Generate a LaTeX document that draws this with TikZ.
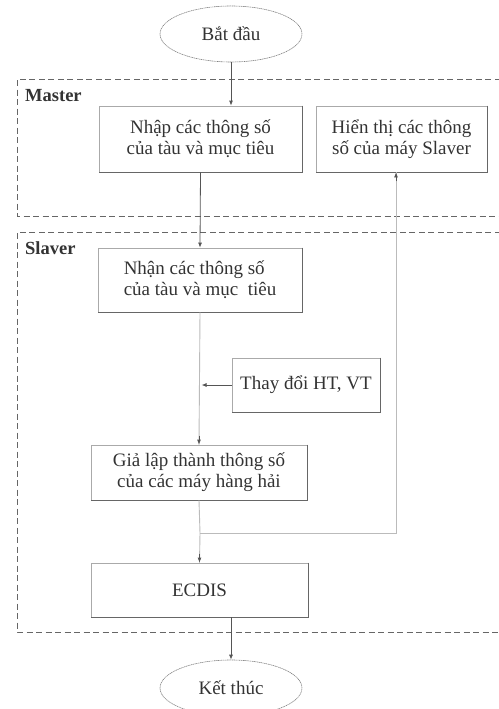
\documentclass[tikz,border=0pt]{standalone}
\usepackage{fontspec}
\setmainfont{Liberation Serif}
\usetikzlibrary{shapes.geometric,arrows.meta,calc}
\definecolor{txt}{HTML}{333333}
\definecolor{dark}{HTML}{555555}
\definecolor{light}{HTML}{BBBBBB}
\definecolor{edge}{HTML}{AAAAAA}
\definecolor{edgedark}{HTML}{666666}
\definecolor{zone}{HTML}{666666}
\tikzset{
  lbl/.style={font=\fontsize{19}{21}\selectfont, text=txt},
  box/.style={lbl, draw=edge, line width=0.8pt, inner sep=0pt, align=center},
  term/.style={lbl, ellipse, draw=gray, line width=0.6pt, dash pattern=on 1.2pt off 0.6pt, minimum width=142pt, minimum height=56pt, inner sep=0pt},
  zonebox/.style={draw=zone, line width=0.9pt, dash pattern=on 6pt off 3.5pt},
  zonelbl/.style={font=\bfseries\fontsize{18.5}{20}\selectfont, text=txt, anchor=base west, inner sep=0pt},
  darkline/.style={draw=dark, line width=0.8pt},
  lightline/.style={draw=light, line width=0.9pt},
  tip/.style={-{Latex[length=5pt,width=4pt]}},
  shade/.style={draw=edgedark, line width=0.9pt}
}
\begin{document}
\begin{tikzpicture}[x=1pt,y=-1pt]
\useasboundingbox (0,0) rectangle (498,709);
% zones
\draw[zonebox] (510,79) -- (17,79) -- (17,216) -- (510,216);
\draw[zonebox] (510,232) -- (17,232) -- (17,632) -- (510,632);
\node[zonelbl] (mlbl) at (25,101) {Master};
\node[zonelbl] (slbl) at (25,254) {Slaver};
% nodes
\node[term] (start) at (231,34) {Bắt đầu};
\node[box, minimum width=203pt, minimum height=66pt] (nhap) at (200.5,139) {Nhập các thông số\\của tàu và mục tiêu};
\node[box, minimum width=171pt, minimum height=66pt] (hien) at (401.5,139) {Hiển thị các thông\\số của máy Slaver};
\node[box, minimum width=204pt, minimum height=64pt, align=left] (nhan) at (200,280) {Nhận các thông số\\của tàu và mục\ \ tiêu};
\node[box, minimum width=148pt, minimum height=54pt] (thay) at (306,385) {Thay đổi HT, VT};
\node[box, minimum width=216pt, minimum height=55pt] (gia) at (199,472.5) {Giả lập thành thông số\\của các máy hàng hải};
\node[box, minimum width=217pt, minimum height=54pt] (ecdis) at (199.5,590) {ECDIS};
\node[term] (end) at (231,688) {Kết thúc};
% darker right/bottom edges
\foreach \n in {nhap,hien,nhan,thay,gia,ecdis}{
  \draw[shade] (\n.north east) -- (\n.south east) -- (\n.south west);
}
% connectors
\draw[darkline, tip] (start.south) -- (start.south |- nhap.north);
\draw[darkline, tip] (nhap.south) -- (nhan.north);
\draw[lightline] (nhan.south) -- (gia.north);
\draw[darkline, tip] ([yshift=9pt]gia.north) -- (gia.north);
\draw[darkline, tip] (thay.west) -- ([xshift=1.5pt]nhan.south |- thay.west);
\coordinate (junc) at (200,533);
\draw[lightline] (gia.south) -- (junc);
\draw[lightline] (junc) -- (ecdis.north);
\draw[darkline, tip] ([yshift=9pt]ecdis.north) -- (ecdis.north);
\draw[lightline] (junc) -| ([xshift=-5.5pt]hien.south);
\draw[darkline, tip] ([xshift=-5.5pt,yshift=-9pt]hien.south) -- ([xshift=-5.5pt]hien.south);
\draw[darkline, tip] (ecdis.south -| end.north) -- (end.north);
\end{tikzpicture}
\end{document}
